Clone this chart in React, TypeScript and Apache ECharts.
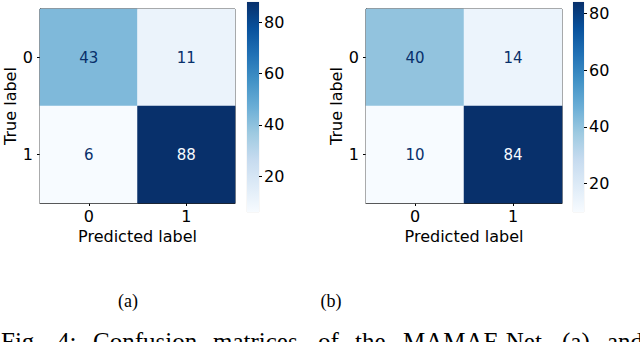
import React, { useEffect, useRef } from "react";
import * as echarts from "echarts";

// ---- data ----
const CLASSES = ["0", "1"];
const MATRIX_A = [
  [43, 11],
  [6, 88],
];
const MATRIX_B = [
  [40, 14],
  [10, 84],
];
const CBAR_TICKS = [20, 40, 60, 80];
const X_NAME = "Predicted label";
const Y_NAME = "True label";
const PANEL_CAPTIONS = ["(a)", "(b)"];
const FIG_CAPTION_WORDS = ["Fig.", "4:", "Confusion", "matrices", "of", "the", "MAMAF-Net", "(a)", "and"];

// ---- style / layout ----
const BLUES = ["#f7fbff", "#deebf7", "#c6dbef", "#9ecae1", "#6baed6", "#4292c6", "#2171b5", "#08519c", "#08306b"];
const SANS = "DejaVu Sans";
const SERIF = "Liberation Serif";
const FIG_WORD_X = [1, 57, 93, 213, 318, 355, 403, 562, 607];

const PANELS = [
  { matrix: MATRIX_A, grid: { left: 40, top: 9, width: 195, height: 194 }, cbar: { left: 247, top: 2, width: 12, height: 210 }, nameGapY: 21, captionX: 128 },
  { matrix: MATRIX_B, grid: { left: 366, top: 9, width: 196, height: 194 }, cbar: { left: 573, top: 2, width: 11, height: 210 }, nameGapY: 20, captionX: 331 },
];

function buildOption() {
  const grid: any[] = [];
  const xAxis: any[] = [];
  const yAxis: any[] = [];
  const series: any[] = [];
  const visualMap: any[] = [];
  const graphic: any[] = [];

  PANELS.forEach((p, i) => {
    const flat = p.matrix.flat();
    const vmin = Math.min(...flat);
    const vmax = Math.max(...flat);
    const thresh = (vmin + vmax) / 2;

    // heatmap grid
    grid.push({ ...p.grid, show: true, borderColor: "#222", borderWidth: 1, backgroundColor: "transparent" });
    const hg = grid.length - 1;
    xAxis.push({
      type: "category",
      gridIndex: hg,
      data: CLASSES,
      position: "bottom",
      axisLine: { show: true, lineStyle: { color: "#222", width: 1 } },
      axisTick: { show: true, alignWithLabel: true, length: 3, lineStyle: { color: "#000" } },
      axisLabel: { fontFamily: SANS, fontSize: 16, color: "#000", margin: 5 },
      splitLine: { show: false },
      name: X_NAME,
      nameLocation: "middle",
      nameGap: 22,
      nameTextStyle: { fontFamily: SANS, fontSize: 16, color: "#000" },
    });
    yAxis.push({
      type: "category",
      gridIndex: hg,
      data: CLASSES,
      inverse: true,
      position: "left",
      axisLine: { show: true, lineStyle: { color: "#222", width: 1 } },
      axisTick: { show: true, alignWithLabel: true, length: 3, lineStyle: { color: "#000" } },
      axisLabel: { fontFamily: SANS, fontSize: 16, color: "#000", margin: 7 },
      splitLine: { show: false },
      name: Y_NAME,
      nameLocation: "middle",
      nameRotate: 90,
      nameGap: p.nameGapY,
      nameTextStyle: { fontFamily: SANS, fontSize: 16, color: "#000" },
    });
    const data: any[] = [];
    p.matrix.forEach((row, r) =>
      row.forEach((v, c) => {
        data.push({
          value: [c, r, v],
          label: { color: v > thresh ? BLUES[0] : BLUES[BLUES.length - 1] },
        });
      })
    );
    series.push({
      type: "heatmap",
      xAxisIndex: xAxis.length - 1,
      yAxisIndex: yAxis.length - 1,
      data,
      label: { show: true, fontFamily: SANS, fontSize: 15, formatter: (d: any) => String(d.value[2]) },
      itemStyle: { borderWidth: 0 },
      emphasis: { disabled: true },
    });
    visualMap.push({
      type: "continuous",
      show: false,
      seriesIndex: series.length - 1,
      dimension: 2,
      min: vmin,
      max: vmax,
      inRange: { color: BLUES },
    });

    // colorbar grid
    grid.push({ ...p.cbar, show: true, borderColor: "#ddd", borderWidth: 0.5, backgroundColor: "transparent" });
    const cg = grid.length - 1;
    xAxis.push({
      type: "category",
      gridIndex: cg,
      data: [""],
      show: false,
    });
    yAxis.push({
      type: "value",
      gridIndex: cg,
      min: vmin,
      max: vmax,
      position: "right",
      axisLine: { show: false },
      axisTick: { show: true, length: 3, customValues: CBAR_TICKS, lineStyle: { color: "#000" } },
      axisLabel: { show: true, customValues: CBAR_TICKS, fontFamily: SANS, fontSize: 16, color: "#000", margin: 5 },
      splitLine: { show: false },
    });
    const stack = "cb" + i;
    series.push({
      type: "bar",
      xAxisIndex: xAxis.length - 1,
      yAxisIndex: yAxis.length - 1,
      stack,
      data: [vmin],
      barWidth: "100%",
      itemStyle: { color: "transparent" },
      silent: true,
    });
    series.push({
      type: "bar",
      xAxisIndex: xAxis.length - 1,
      yAxisIndex: yAxis.length - 1,
      stack,
      data: [vmax - vmin],
      barWidth: "100%",
      silent: true,
      itemStyle: {
        color: new echarts.graphic.LinearGradient(
          0,
          0,
          0,
          1,
          BLUES.slice()
            .reverse()
            .map((c, k) => ({ offset: k / (BLUES.length - 1), color: c }))
        ),
      },
    });

    graphic.push({
      type: "text",
      x: p.captionX,
      y: 301,
      style: { text: PANEL_CAPTIONS[i], fontFamily: SERIF, fontSize: 18, fill: "#000", textAlign: "center", textVerticalAlign: "middle" },
    });
  });

  FIG_CAPTION_WORDS.forEach((w, k) => {
    graphic.push({
      type: "text",
      x: FIG_WORD_X[k],
      y: 329,
      style: { text: w, fontFamily: SERIF, fontSize: 25, fill: "#000", textAlign: "left", textVerticalAlign: "top" },
    });
  });

  return {
    animation: false,
    backgroundColor: "#fff",
    grid,
    xAxis,
    yAxis,
    visualMap,
    series,
    graphic,
  };
}

export default function App() {
  const ref = useRef<HTMLDivElement>(null);
  useEffect(() => {
    if (!ref.current) return;
    const chart = echarts.init(ref.current, undefined, { renderer: "svg" });
    chart.setOption(buildOption() as any);
    return () => chart.dispose();
  }, []);
  return <div ref={ref} style={{ position: "fixed", left: 0, top: 0, width: 640, height: 342 }} />;
}
